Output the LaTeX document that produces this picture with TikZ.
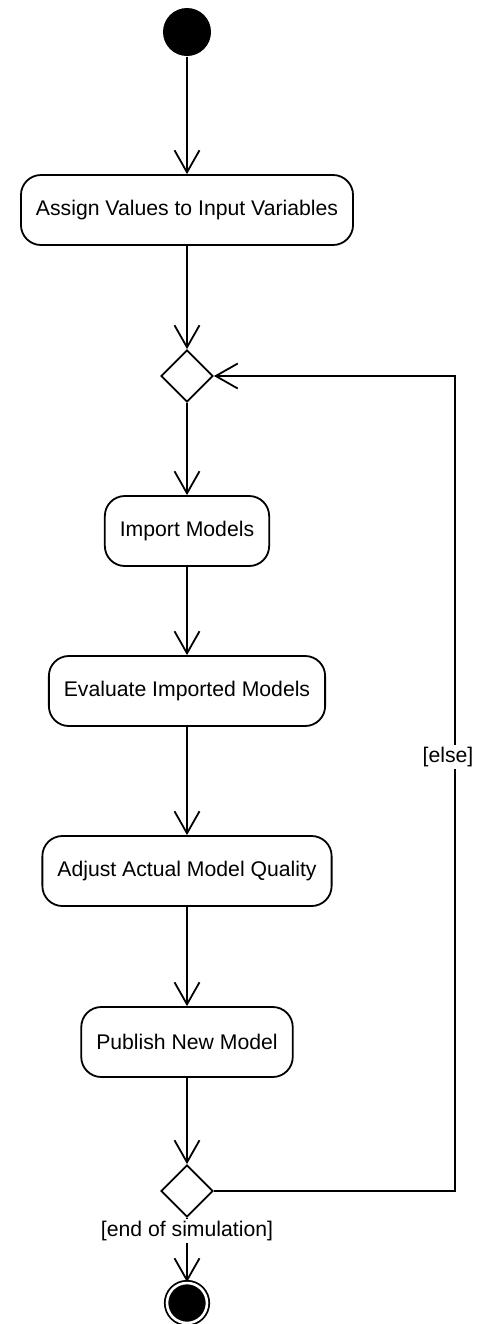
\documentclass[tikz,border=0pt]{standalone}
\usepackage{fontspec}
\setmainfont{Liberation Sans}
\usetikzlibrary{shapes.geometric,arrows.meta}

\begin{document}
\begin{tikzpicture}[x=0.5pt,y=-0.5pt,
    font=\fontsize{10.6}{12}\selectfont,
    line width=0.9pt,
    activity/.style={draw,rounded corners=10pt,minimum height=35pt,inner xsep=7.5pt},
    decision/.style={draw,diamond,minimum size=26pt,inner sep=0pt},
    initial/.style={circle,fill=black,minimum size=24pt,inner sep=0pt},
    final/.style={circle,draw,fill=black,double,double distance=1.3pt,minimum size=20pt,inner sep=0pt},
    flow/.style={-{Straight Barb[length=11pt,width=12.5pt]}},
    guard/.style={fill=white,inner sep=1pt}]
      \useasboundingbox[fill=white] (0,0) rectangle (478,1324);
      \node[initial] (start) at (187,32) {};
      \node[activity] (assign) at (187,210) {Assign Values to Input Variables};
      \node[decision] (merge) at (187,376) {};
      \node[activity] (import) at (187,531) {Import Models};
      \node[activity] (evaluate) at (187,691) {Evaluate Imported Models};
      \node[activity] (adjust) at (187,871) {Adjust Actual Model Quality};
      \node[activity] (publish) at (187,1042) {Publish New Model};
      \node[decision] (branch) at (187,1191) {};
      \node[final] (end) at (187,1303) {};
      \coordinate (loop) at (455,757);
      \draw[flow] (start) -- (assign);
      \draw[flow] (assign) -- (merge);
      \draw[flow] (merge) -- (import);
      \draw[flow] (import) -- (evaluate);
      \draw[flow] (evaluate) -- (adjust);
      \draw[flow] (adjust) -- (publish);
      \draw[flow] (publish) -- (branch);
      \draw[flow] (branch.east) -| (loop) node[guard,xshift=-3.5pt] {[else]} |- (merge.east);
      \draw[flow] (branch) -- node[guard,pos=0.2] {[end of simulation]} (end);
    \end{tikzpicture}
\end{document}
